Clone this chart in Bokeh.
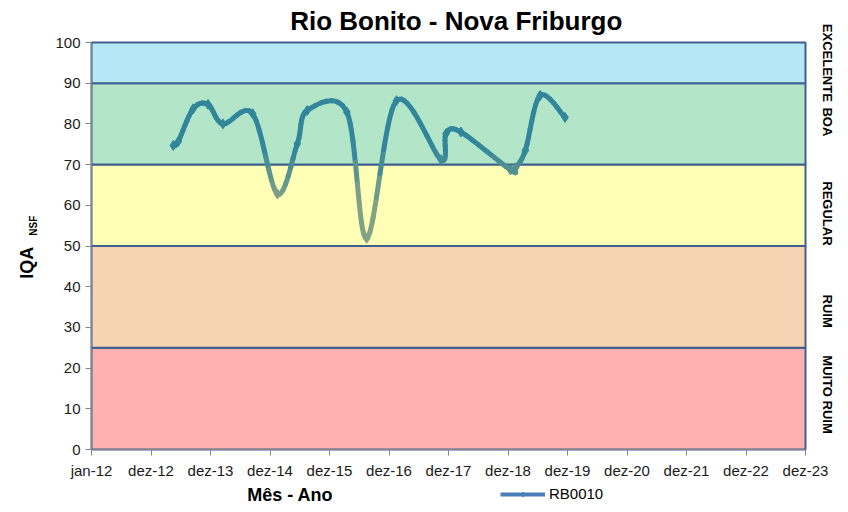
import numpy as np
from bokeh.plotting import figure
from bokeh.models import (FixedTicker, LinearAxis, Range1d, Label, Legend, LegendItem)
from bokeh.embed import file_html
from bokeh.resources import INLINE

# ---------------- data ----------------
months = ["2013-05", "2013-06", "2013-09", "2013-12", "2014-03", "2014-09",
          "2015-02", "2015-06", "2015-08", "2016-04", "2016-08", "2017-02",
          "2017-11", "2017-12", "2018-03", "2019-01", "2019-02", "2019-04",
          "2019-07", "2019-12"]
iqa = [74.7, 75.7, 83.7, 84.8, 80.0, 82.5,
       62.8, 75.1, 83.3, 82.9, 51.9, 85.7,
       71.2, 77.6, 78.0, 68.7, 69.2, 73.5,
       87.0, 81.6]

band_names = ["MUITO RUIM", "RUIM", "REGULAR", "BOA", "EXCELENTE"]
band_low = [0, 25, 50, 70, 90]
band_high = [25, 50, 70, 90, 100]
band_colors = ["#FFB1B1", "#F5D3B3", "#FFFFB5", "#B3E6C9", "#B5E7F6"]
band_label_pos = [13.5, 34, 58, 80.5, 95]

x_tick_labels = ["jan-12", "dez-12", "dez-13", "dez-14", "dez-15", "dez-16",
                 "dez-17", "dez-18", "dez-19", "dez-20", "dez-21", "dez-22",
                 "dez-23"]
x_ticks = [2012 + i for i in range(len(x_tick_labels))]
y_ticks = list(range(0, 101, 10))

# ---------------- helpers ----------------
def month_to_x(m):
    y, mo = m.split("-")
    return int(y) + (int(mo) - 0.5) / 12.0

xs = np.array([month_to_x(m) for m in months])
ys = np.array(iqa, dtype=float)

TEAL = np.array([49, 134, 155])
GRAY = np.array([128, 162, 134])

def col_for(yv):
    f = min(max((74.0 - yv) / 12.0, 0.0), 1.0)
    c = (1 - f) * TEAL + f * GRAY
    return "#%02x%02x%02x" % tuple(int(round(v)) for v in c)

def split(p0, p1, p2, p3, t):
    a = p0 + (p1 - p0) * t
    b = p1 + (p2 - p1) * t
    c = p2 + (p3 - p2) * t
    d = a + (b - a) * t
    e = b + (c - b) * t
    f = d + (e - d) * t
    return (p0, a, d, f), (f, e, c, p3)

P = np.column_stack([xs, ys])
n = len(P)
bz = {k: [] for k in ["x0", "y0", "x1", "y1", "cx0", "cy0", "cx1", "cy1", "c"]}
K = 8
for i in range(n - 1):
    p0 = P[i]
    p3 = P[i + 1]
    pm = P[i - 1] if i > 0 else P[i]
    pp = P[i + 2] if i + 2 < n else P[i + 1]
    c1 = p0 + (p3 - pm) / 6.0
    c2 = p3 - (pp - p0) / 6.0
    cur = (p0, c1, c2, p3)
    for k in range(K):
        remaining = K - k
        if remaining > 1:
            left, cur = split(*cur, 1.0 / remaining)
        else:
            left = cur
        q0, q1, q2, q3 = left
        bz["x0"].append(q0[0]); bz["y0"].append(q0[1])
        bz["x1"].append(q3[0]); bz["y1"].append(q3[1])
        bz["cx0"].append(q1[0]); bz["cy0"].append(q1[1])
        bz["cx1"].append(q2[0]); bz["cy1"].append(q2[1])
        bz["c"].append(col_for((q0[1] + q3[1]) / 2.0))

# ---------------- layout (pixels) ----------------
W, H = 840, 504
PX_LEFT, PX_RIGHT = 91, 805        # plot area inside the canvas
PX_TOP, PX_BOTTOM = 42, 449
sx = (PX_RIGHT - PX_LEFT) / (x_ticks[-1] - x_ticks[0])
sy = (PX_BOTTOM - PX_TOP) / 100.0
x_start = x_ticks[0] - PX_LEFT / sx
x_end = x_ticks[-1] + (W - PX_RIGHT) / sx
y_start = -(H - PX_BOTTOM) / sy
y_end = 100 + PX_TOP / sy

FONT = "Liberation Sans"
p = figure(width=W, height=H, x_range=Range1d(x_start, x_end), y_range=Range1d(y_start, y_end),
           output_backend="svg", toolbar_location=None, min_border=0,
           x_axis_location=None, y_axis_location=None)
p.outline_line_color = None
p.xgrid.visible = False
p.ygrid.visible = False
p.background_fill_color = "white"
p.border_fill_color = "white"

# bands
p.quad(left=x_ticks[0], right=x_ticks[-1], bottom=band_low, top=band_high,
       fill_color=band_colors, line_color="#3E5F8F", line_width=2)

# smooth line
p.bezier(x0=bz["x0"], y0=bz["y0"], x1=bz["x1"], y1=bz["y1"],
         cx0=bz["cx0"], cy0=bz["cy0"], cx1=bz["cx1"], cy1=bz["cy1"],
         line_color=bz["c"], line_width=5, line_cap="round")
p.scatter(xs, ys, marker="diamond", size=10, color=[col_for(v) for v in ys])

# axes (fixed to the plot area edges)
xaxis = LinearAxis(ticker=FixedTicker(ticks=x_ticks), fixed_location=0,
                   bounds=(x_ticks[0], x_ticks[-1]),
                   major_label_overrides={t: l for t, l in zip(x_ticks, x_tick_labels)})
yaxis = LinearAxis(ticker=FixedTicker(ticks=y_ticks), fixed_location=x_ticks[0],
                   bounds=(0, 100))
for ax in (xaxis, yaxis):
    ax.axis_line_color = "#868686"
    ax.major_tick_line_color = "#868686"
    ax.minor_tick_line_color = None
    ax.major_tick_out = 6
    ax.major_tick_in = 0
    ax.major_label_text_font = FONT
    ax.major_label_text_font_size = "15px"
    ax.major_label_text_color = "#1a1a1a"
xaxis.major_label_standoff = 6
yaxis.major_label_standoff = 5
p.add_layout(xaxis, "below")
p.add_layout(yaxis, "left")

right = LinearAxis(ticker=FixedTicker(ticks=band_label_pos), fixed_location=x_ticks[-1],
                   bounds=(0, 100),
                   major_label_overrides={t: l for t, l in zip(band_label_pos, band_names)},
                   major_label_orientation="vertical",
                   axis_line_color=None, major_tick_line_color=None,
                   minor_tick_line_color=None, major_tick_out=0, major_tick_in=0,
                   major_label_text_font=FONT,
                   major_label_text_font_style="bold",
                   major_label_text_font_size="13px",
                   major_label_text_color="#000000",
                   major_label_standoff=14)
p.add_layout(right, "right")

# title and axis titles
p.add_layout(Label(x=2018.13, y=105.4, text="Rio Bonito - Nova Friburgo", text_align="center",
                   text_baseline="middle", text_font=FONT, text_font_size="26px",
                   text_font_style="bold", text_color="#000000"))
p.add_layout(Label(x=2015.34, y=-11.2, text="Mês - Ano", text_align="center",
                   text_baseline="middle", text_font=FONT, text_font_size="18px",
                   text_font_style="bold", text_color="#000000"))
p.add_layout(Label(x=2010.92, y=45.9, text="IQA", angle=np.pi / 2, text_align="center",
                   text_baseline="middle", text_font=FONT, text_font_size="18px",
                   text_font_style="bold", text_color="#000000"))
p.add_layout(Label(x=2011.03, y=55.0, text="NSF", angle=np.pi / 2, text_align="center",
                   text_baseline="middle", text_font=FONT, text_font_size="10px",
                   text_font_style="bold", text_color="#000000"))

# legend (sample glyph in the default series blue, as in the reference)
lg_line = p.line(x=[np.nan], y=[np.nan], line_color="#4A7EBB", line_width=4)
lg_mark = p.scatter(x=[np.nan], y=[np.nan], marker="diamond", size=7, color="#4A7EBB")
legend = Legend(items=[LegendItem(label="RB0010", renderers=[lg_line, lg_mark])],
                location=(500, 2), orientation="horizontal",
                border_line_color=None, background_fill_alpha=0,
                padding=0, margin=0, spacing=0, glyph_width=45, glyph_height=12,
                label_standoff=4, label_text_font=FONT, label_text_font_size="15px",
                label_text_color="#000000")
p.add_layout(legend)

open("out.html", "w").write(file_html(p, INLINE))
